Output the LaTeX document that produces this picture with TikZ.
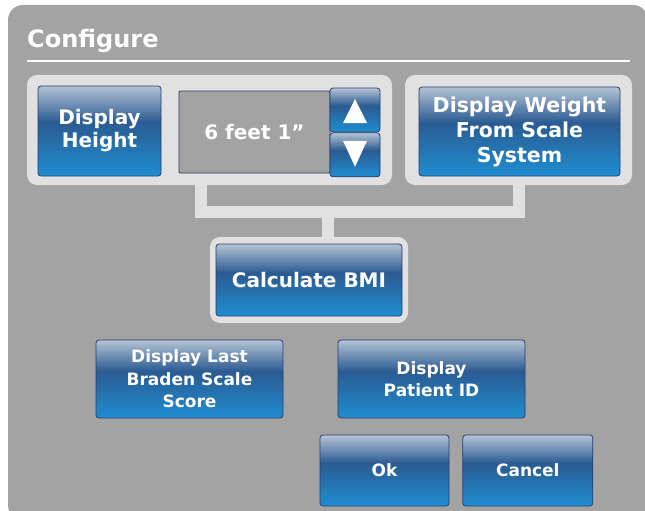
\documentclass[tikz,border=0pt]{standalone}
\usepackage{fontspec}
\setmainfont{DejaVu Sans}
\usepackage{tikz}
\usetikzlibrary{positioning}

\definecolor{panelgray}{HTML}{A3A3A3}
\definecolor{framegray}{HTML}{E1E1E1}
\definecolor{btnedge}{HTML}{2A3C6C}
\definecolor{btntop}{HTML}{B4C3D5}
\definecolor{btnmid}{HTML}{2B5B92}
\definecolor{btnbot}{HTML}{1E8ED1}
\pgfdeclareverticalshading{btnshade}{100bp}{color(0bp)=(btnbot); color(25bp)=(btnbot); color(55bp)=(btnmid); color(75bp)=(btntop); color(100bp)=(btntop)}

\begin{document}
\begin{tikzpicture}[
    x=1pt, y=-1pt,
    btn/.style={rectangle, draw=btnedge, line width=0.8pt, shading=btnshade, rounded corners=3pt, text=white, align=center, font=\bfseries\fontsize{20}{23}\selectfont, inner sep=0pt},
    small/.style={font=\bfseries\fontsize{17}{22.5}\selectfont},
    frame/.style={rectangle, fill=framegray, rounded corners=10pt, inner sep=0pt},
    link/.style={draw=framegray, line width=12pt, line join=miter}
]
\useasboundingbox (0,0) rectangle (645,511);

% background panel
\fill[panelgray, rounded corners=15pt] (8,5) rectangle (648,520);
\node[anchor=base west, text=white, font=\bfseries\fontsize{24}{28}\selectfont, inner sep=0pt] (title) at (27,48) {Configure};
\draw[white, line width=2pt] (27,61) -- (630,61);

% frames
\node[frame, minimum width=365pt, minimum height=110pt] (leftbox) at (209.5,130) {};
\node[frame, minimum width=227pt, minimum height=110pt] (rightbox) at (518.5,130) {};
\node[frame, minimum width=198pt, minimum height=86pt] (bmibox) at (309,280) {};

% bracket joining the frames
\coordinate (jl) at (201,212);
\coordinate (jr) at (519,212);
\coordinate (jm) at (327.5,212);
\draw[link] (leftbox.south -| jl) -- (jl) -- (jr) -- (rightbox.south -| jr);
\draw[link] (jm) -- (bmibox.north -| jm);

% top row
\node[btn, minimum width=123pt, minimum height=90pt] (height) at (99.5,131) {Display\\Height};
\node[rectangle, draw=btnedge, line width=0.8pt, fill=panelgray, rounded corners=1pt, minimum width=151pt, minimum height=82pt, text=white, font=\bfseries\fontsize{20}{23}\selectfont] (value) at (254.5,132) {6 feet 1”};
\node[btn, minimum width=50pt, minimum height=44pt] (up) at (355,110) {};
\node[btn, minimum width=50pt, minimum height=44pt, below=0pt of up] (down) {};
\fill[white] ([shift={(0,-11)}]up.center) -- ([shift={(12,13)}]up.center) -- ([shift={(-12,13)}]up.center) -- cycle;
\fill[white] ([shift={(0,12)}]down.center) -- ([shift={(12,-14)}]down.center) -- ([shift={(-12,-14)}]down.center) -- cycle;
\node[btn, font=\bfseries\fontsize{20.5}{25}\selectfont, minimum width=201pt, minimum height=89pt] (weight) at (519.5,131.5) {Display Weight\\From Scale\\System};

% middle
\node[btn, minimum width=186pt, minimum height=72pt] (bmi) at (bmibox) {Calculate BMI};
\node[btn, small, minimum width=187pt, minimum height=78pt] (braden) at (189.5,379) {Display Last\\Braden Scale\\Score};
\node[btn, small, minimum width=187pt, minimum height=78pt] (patient) at (431.5,379) {Display\\Patient ID};

% bottom
\node[btn, small, minimum width=129pt, minimum height=71pt] (ok) at (384.5,470.5) {Ok};
\node[btn, small, minimum width=130pt, minimum height=71pt, right=13pt of ok] (cancel) {Cancel};

\end{tikzpicture}
\end{document}
